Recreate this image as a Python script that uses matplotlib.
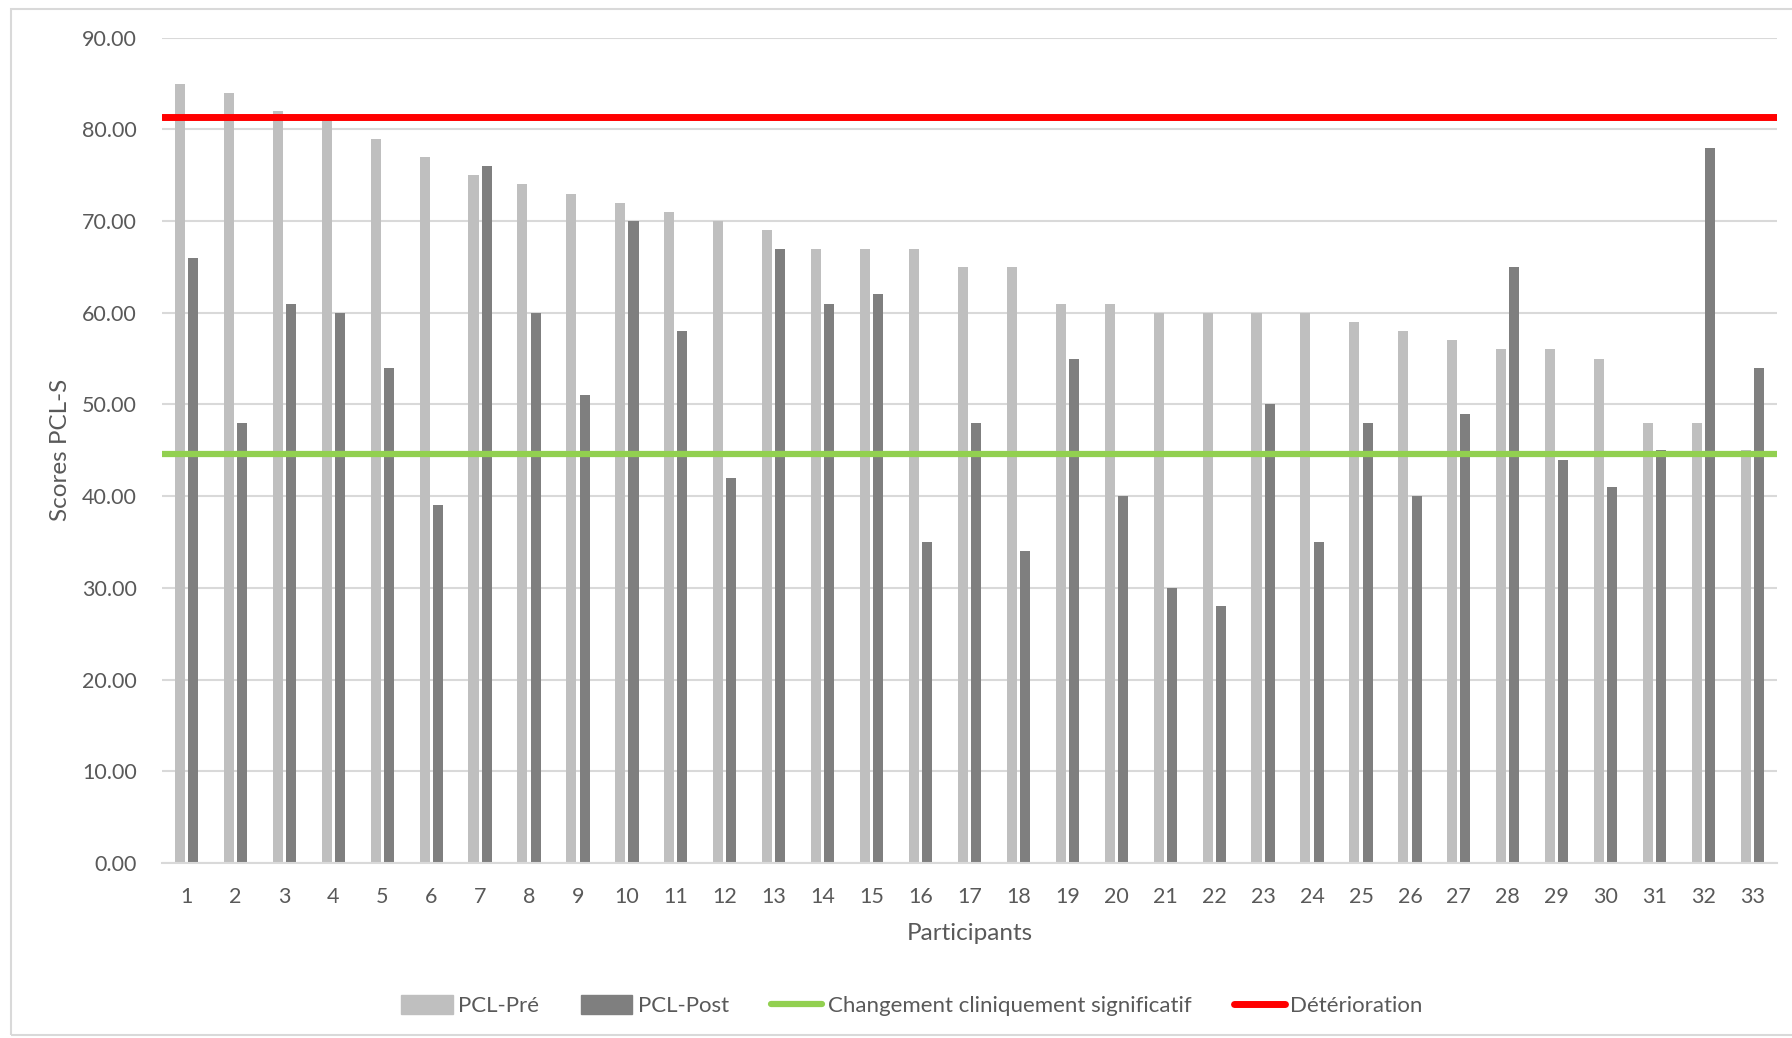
import matplotlib
matplotlib.use("Agg")
import matplotlib.pyplot as plt
import numpy as np
from matplotlib.patches import Rectangle, Patch
from matplotlib.lines import Line2D

plt.rcParams['font.family'] = ['Lato', 'DejaVu Sans']

participants = [str(i) for i in range(1, 34)]
pcl_pre = [85, 84, 82, 81, 79, 77, 75, 74, 73, 72, 71, 70, 69, 67, 67, 67, 65, 65,
           61, 61, 60, 60, 60, 60, 59, 58, 57, 56, 56, 55, 48, 48, 45]
pcl_post = [66, 48, 61, 60, 54, 39, 76, 60, 51, 70, 58, 42, 67, 61, 62, 35, 48, 34,
            55, 40, 30, 28, 50, 35, 48, 40, 49, 65, 44, 41, 45, 78, 54]
seuil_changement = 44.6
seuil_deterioration = 81.4
yticks = [0, 10, 20, 30, 40, 50, 60, 70, 80, 90]

c_pre = '#bfbfbf'
c_post = '#7f7f7f'
c_green = '#92d050'
c_red = '#ff0000'
c_text = '#595959'
c_grid = '#d9d9d9'

fig = plt.figure(figsize=(17.92, 10.38), dpi=100)
ax = fig.add_axes([0.0904, 0.1686, 0.9012, 0.7951])

x = np.arange(len(participants))
w = 0.205
off = 0.135
ax.bar(x - off, pcl_pre, width=w, color=c_pre, zorder=2)
ax.bar(x + off, pcl_post, width=w, color=c_post, zorder=2)

ax.axhline(seuil_changement, color=c_green, lw=4.5, zorder=3, solid_capstyle='round')
ax.axhline(seuil_deterioration, color=c_red, lw=5, zorder=3, solid_capstyle='round')

ax.set_xlim(-0.5, len(participants) - 0.5)
ax.set_ylim(0, 90)
ax.set_yticks(yticks)
ax.set_yticklabels([f"{v:.2f}" for v in yticks])
ax.set_xticks(x)
ax.set_xticklabels(participants)
ax.yaxis.grid(True, color=c_grid, lw=1.5, zorder=0)
ax.set_axisbelow(True)
for s in ['top', 'right', 'left']:
    ax.spines[s].set_visible(False)
ax.spines['bottom'].set_color(c_grid)
ax.spines['bottom'].set_linewidth(1.5)
ax.tick_params(axis='both', length=0, colors=c_text, labelsize=15.5)
ax.tick_params(axis='y', pad=18)
ax.tick_params(axis='x', pad=17)

ax.set_xlabel('Participants', fontsize=17.5, color=c_text, labelpad=12)
ax.set_ylabel('Scores PCL-S', fontsize=17.5, color=c_text, labelpad=8)

handles = [Patch(color=c_pre, label='PCL-Pré'),
           Patch(color=c_post, label='PCL-Post'),
           Line2D([0], [0], color=c_green, lw=4.5, solid_capstyle='round', label='Changement cliniquement significatif'),
           Line2D([0], [0], color=c_red, lw=5, solid_capstyle='round', label='Détérioration')]
leg = fig.legend(handles=handles, loc='center', bbox_to_anchor=(0.509, 0.031), ncol=4,
                 frameon=False, fontsize=16, handlelength=2.3, handleheight=0.9,
                 columnspacing=1.9, handletextpad=0.25)
for t in leg.get_texts():
    t.set_color(c_text)

fig.patches.append(Rectangle((11 / 1792, 3 / 1038), 1.2, 1 - 12 / 1038, transform=fig.transFigure,
                             fill=False, edgecolor=c_grid, lw=1.5, zorder=0))

fig.savefig('out.png', dpi=100)
